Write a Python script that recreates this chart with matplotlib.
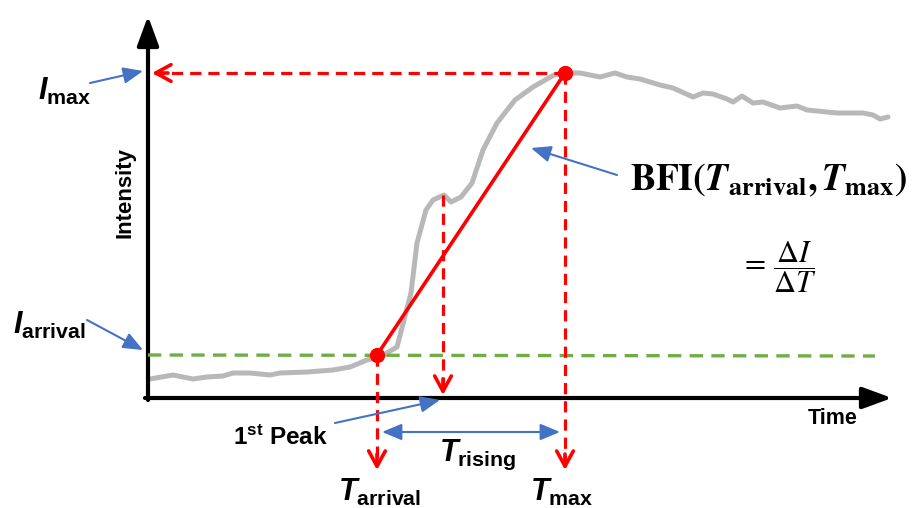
import matplotlib.pyplot as plt

plt.rcParams['font.family'] = ['Liberation Sans', 'DejaVu Sans']
plt.rcParams['mathtext.fontset'] = 'custom'
plt.rcParams['mathtext.rm'] = 'Liberation Sans:bold'
plt.rcParams['mathtext.it'] = 'Liberation Sans:italic:bold'
plt.rcParams['mathtext.bf'] = 'Liberation Sans:bold'

# intensity curve (time, intensity in arbitrary units)
time = [2, 25, 45, 59, 75, 85, 102, 122, 132, 159, 185, 202, 219, 232, 249,
        263, 269, 278, 285, 296, 303, 313, 324, 335, 349, 367, 385, 406,
        419, 432, 452, 467, 479, 492, 512, 525, 545, 555, 565, 579, 585, 594,
        605, 615, 632, 649, 659, 679, 689, 705, 715, 725, 732, 740]
intensity = [19, 23, 19, 21, 22, 25, 25, 23, 25, 26, 28, 31, 38, 41, 51,
             105, 155, 188, 198, 203, 196, 201, 215, 248, 275, 298, 311, 323,
             325, 325, 321, 325, 321, 319, 313, 310, 301, 305, 304, 299, 296, 302,
             295, 296, 290, 292, 288, 286, 285, 285, 285, 283, 279, 281]

t_arrival, i_arrival = 229, 43
t_max, i_max = 417, 325
t_peak, i_peak = 295, 203

RED = '#ff0000'
BLUE = '#4472c4'
GREEN = '#70ad47'
GRAY = '#b8b8b8'

fig = plt.figure(figsize=(9.15, 5.08), dpi=100)
ax = fig.add_axes([0, 0, 1, 1])
ax.set_xlim(-148, 767)
ax.set_ylim(-110, 398)
ax.axis('off')

# axes with arrows
ax.annotate('', xy=(0, 382), xytext=(0, -2),
            arrowprops=dict(arrowstyle='-|>, head_length=0.9, head_width=0.33',
                            lw=3, color='black', mutation_scale=20, shrinkA=0, shrinkB=0))
ax.annotate('', xy=(744, 0), xytext=(-3, 0),
            arrowprops=dict(arrowstyle='-|>, head_length=0.9, head_width=0.33',
                            lw=3, color='black', mutation_scale=20, shrinkA=0, shrinkB=0))

# curve
ax.plot(time, intensity, color=GRAY, lw=3.6, solid_capstyle='round',
        solid_joinstyle='round', zorder=2)

# arrival level
ax.plot([0, 727], [i_arrival, i_arrival - 1], color=GREEN, lw=2.4, ls=(0, (4, 2.5)), zorder=3)

# dashed guides
dash = (0, (3.5, 2.2))
ax.plot([t_max, 6], [i_max, i_max], color=RED, lw=2.3, ls=dash, zorder=3)
ax.plot([t_max, t_max], [i_max, -66], color=RED, lw=2.3, ls=dash, zorder=3)
ax.plot([t_arrival, t_arrival], [i_arrival, -66], color=RED, lw=2.3, ls=dash, zorder=3)
ax.plot([t_peak, t_peak], [i_peak, 10], color=RED, lw=2.3, ls=dash, zorder=3)

head = dict(arrowstyle='->, head_length=0.55, head_width=0.3', lw=2.6, color=RED,
            mutation_scale=20, shrinkA=0, shrinkB=0)
ax.annotate('', xy=(4, i_max), xytext=(20, i_max), arrowprops=head)
ax.annotate('', xy=(t_max, -72), xytext=(t_max, -56), arrowprops=head)
ax.annotate('', xy=(t_arrival, -72), xytext=(t_arrival, -56), arrowprops=head)
ax.annotate('', xy=(t_peak, 3), xytext=(t_peak, 19), arrowprops=head)

# slope line
ax.plot([t_arrival, t_max], [i_arrival, i_max], color=RED, lw=2.6, zorder=4)
ax.plot([t_arrival, t_max], [i_arrival, i_max], 'o', color=RED, ms=10, zorder=5)

# blue pointers
bl = dict(arrowstyle='-|>, head_length=0.6, head_width=0.25', lw=1.5, color=BLUE,
          mutation_scale=20, shrinkA=0, shrinkB=0)
ax.annotate('', xy=(-5, 327), xytext=(-58, 315), arrowprops=bl)
ax.annotate('', xy=(-5, 48), xytext=(-61, 78), arrowprops=bl)
ax.annotate('', xy=(292, -2), xytext=(187, -25), arrowprops=bl)
ax.annotate('', xy=(383, 250), xytext=(469, 223), arrowprops=bl)
ax.annotate('', xy=(234, -34), xytext=(412, -34),
            arrowprops=dict(arrowstyle='<|-|>, head_length=0.6, head_width=0.25', lw=1.5,
                            color=BLUE, mutation_scale=20, shrinkA=0, shrinkB=0))

# labels
ax.text(-23, 205, 'Intensity', rotation=90, ha='center', va='center',
        fontsize=16, fontweight='bold')
ax.text(685, -20, 'Time', ha='center', va='center', fontsize=15.5, fontweight='bold')
ax.text(-83, 307, r'$I_{\mathrm{max}}$', ha='center', va='center', fontsize=22)
ax.text(-98, 73, r'$I_{\mathrm{arrival}}$', ha='center', va='center', fontsize=22)
ax.text(132, -40, r'1$^{\mathrm{st}}$ Peak', ha='center', va='center',
        fontsize=17.5, fontweight='bold')
ax.text(330, -57, r'$T_{\mathrm{rising}}$', ha='center', va='center', fontsize=22)
ax.text(232, -94, r'$T_{\mathrm{arrival}}$', ha='center', va='center', fontsize=22)
ax.text(414, -94, r'$T_{\mathrm{max}}$', ha='center', va='center', fontsize=22)

ax.text(482, 218,
        r'$\mathbf{BFI(}\mathbfit{T}_{\mathbf{arrival}}\mathbf{,}\,\mathbfit{T}_{\mathbf{max}}\mathbf{)}$',
        ha='left', va='center', fontsize=27, math_fontfamily='stix')
ax.text(592, 131, r'$=\,\dfrac{\Delta I}{\Delta T}$', ha='left', va='center',
        fontsize=22, math_fontfamily='stix')

fig.savefig('out.png', dpi=100)
